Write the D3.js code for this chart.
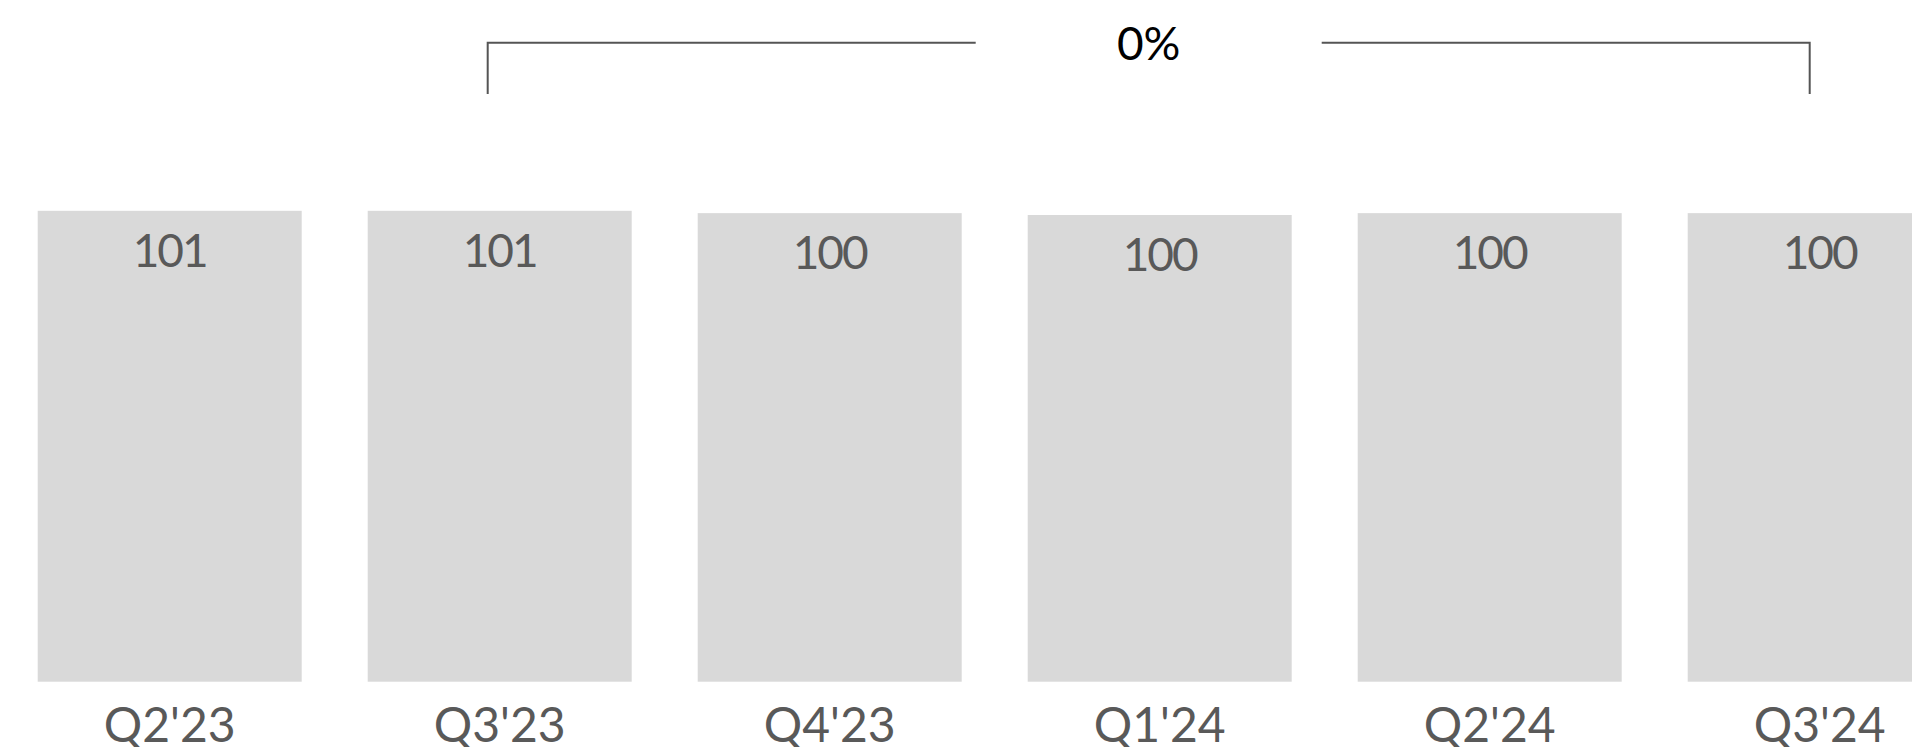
<!DOCTYPE html>
<html>
<head>
<meta charset="utf-8">
<script src="https://cdn.jsdelivr.net/npm/d3@7"></script>
<style>
    html, body { margin: 0; padding: 0; background: #fff; overflow: hidden; }
    svg { display: block; }
    text { font-family: Lato, "Open Sans", sans-serif; }
</style>
</head>
<body>
<svg></svg>
<script>
const quarters = ["Q2'23", "Q3'23", "Q4'23", "Q1'24", "Q2'24", "Q3'24"];
const values = [100.9, 100.9, 100.4, 100.0, 100.4, 100.4];
const valueLabels = ["101", "101", "100", "100", "100", "100"];
const bracketFrom = "Q3'23";
const bracketTo = "Q3'24";
const bracketLabel = "0%";

document.addEventListener('DOMContentLoaded', function() {
    const width = 1912;
    const height = 747;
    const baseline = 681.7;

    const svg = d3.select("svg")
        .attr("width", width)
        .attr("height", height);

    const x = d3.scaleBand()
        .domain(quarters)
        .range([4.7, 1984.7])
        .paddingInner(0.2)
        .paddingOuter(0.1);

    const y = d3.scaleLinear()
        .domain([0, 100])
        .range([baseline, 215]);

    const data = quarters.map((q, i) => ({ q: q, v: values[i], label: valueLabels[i] }));

    svg.selectAll(".bar")
        .data(data)
        .enter().append("rect")
        .attr("class", "bar")
        .attr("x", d => x(d.q))
        .attr("y", d => y(d.v))
        .attr("width", x.bandwidth())
        .attr("height", d => baseline - y(d.v))
        .style("fill", "#d9d9d9");

    svg.selectAll(".value")
        .data(data)
        .enter().append("text")
        .attr("class", "value")
        .attr("x", d => x(d.q) + x.bandwidth() / 2)
        .attr("y", d => y(d.v) + 56)
        .attr("text-anchor", "middle")
        .style("font-size", "46px")
        .style("letter-spacing", "-2px")
        .style("fill", "#595959")
        .text(d => d.label);

    // category labels under the bars
    const xAxis = svg.append("g")
        .attr("transform", `translate(0,${baseline})`)
        .call(d3.axisBottom(x).tickSize(0).tickPadding(0));
    xAxis.select(".domain").remove();
    xAxis.selectAll("text")
        .attr("dy", null)
        .attr("y", 60)
        .style("font-size", "48px")
        .style("fill", "#595959")
        .style("font-family", "Lato, 'Open Sans', sans-serif");

    // change bracket
    const bx0 = x(bracketFrom) + x.bandwidth() / 2 - 12;
    const bx1 = x(bracketTo) + x.bandwidth() / 2 - 10;
    const by = 42.7;
    const bBottom = 94;
    const mid = (bx0 + bx1) / 2;
    const gap = 173;

    const line = d3.line();
    svg.append("path")
        .attr("d", line([[bx0, bBottom], [bx0, by], [mid - gap, by]]))
        .style("fill", "none")
        .style("stroke", "#555")
        .style("stroke-width", 2);
    svg.append("path")
        .attr("d", line([[mid + gap, by], [bx1, by], [bx1, bBottom]]))
        .style("fill", "none")
        .style("stroke", "#555")
        .style("stroke-width", 2);

    svg.append("text")
        .attr("x", mid)
        .attr("y", 60)
        .attr("text-anchor", "middle")
        .style("font-size", "46px")
        .style("fill", "#000")
        .text(bracketLabel);
});
</script>
</body>
</html>
